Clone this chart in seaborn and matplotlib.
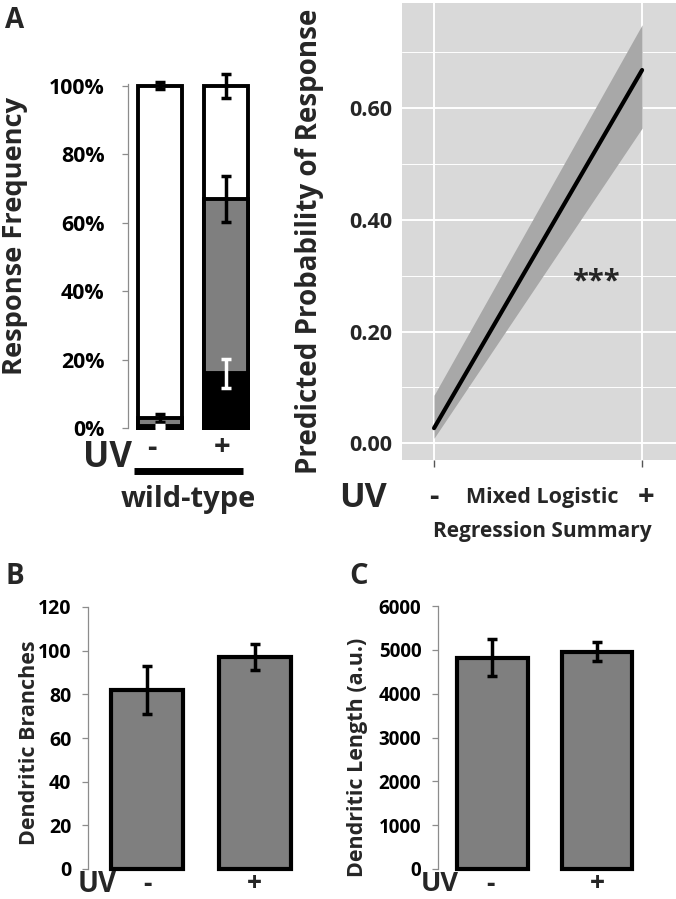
import matplotlib
matplotlib.use("Agg")
import matplotlib.pyplot as plt
from matplotlib.lines import Line2D
import seaborn as sns

sns.set_style("ticks")
plt.rcParams['font.family'] = ['Open Sans', 'DejaVu Sans']
plt.rcParams['font.weight'] = 'bold'

W, H = 676, 899

#
#  Values
#

uv = ["-", "+"]

# A (left): cumulative response frequency (%) at the top of each stacked segment
freq_total = [100, 100]
freq_gray_top = [3, 67]
freq_black_top = [0.5, 16]
err_total = [1.0, 3.5]
err_gray = [1.2, 6.7]
err_black = [0.5, 4.2]

# A (right): mixed logistic regression summary, fit and confidence band
reg_x = [0, 1]
reg_fit = [0.027, 0.668]
reg_low = [0.009, 0.564]
reg_high = [0.086, 0.749]

# B and C
branches = [82, 97]
branches_err = [11, 6]
dlength = [4820, 4960]
dlength_err = [420, 225]

GRAY = "#7f7f7f"
AXGRAY = "#8c8c8c"

fig = plt.figure(figsize=(W / 100, H / 100), dpi=100)


def px_axes(x0, y0, x1, y1):
    return fig.add_axes([x0 / W, 1 - y1 / H, (x1 - x0) / W, (y1 - y0) / H])


def ftext(x, y, s, **kw):
    kw.setdefault('ha', 'center')
    kw.setdefault('va', 'center')
    fig.text(x / W, 1 - y / H, s, **kw)


def style_bar_axes(ax, pad):
    sns.despine(ax=ax, top=True, right=True, bottom=True)
    ax.spines['left'].set_color(AXGRAY)
    ax.spines['left'].set_linewidth(0.9)
    ax.tick_params(axis='y', direction='out', length=4, width=0.9,
                   color=AXGRAY, pad=pad, labelcolor='black')
    ax.tick_params(axis='x', length=0, labelbottom=False)
    ax.set_xlabel("")
    ax.set_ylabel("")
    for p in ax.patches:
        p.set_clip_on(False)


def err(ax, vals, errs, color='black'):
    eb = ax.errorbar([0, 1], vals, yerr=errs, fmt='none', ecolor=color,
                     elinewidth=2.5, capsize=3.5, capthick=2.5, zorder=5)
    for artist in eb.lines[1] + eb.lines[2]:
        artist.set_clip_on(False)


#%%
# A, left: stacked response frequencies

ax = px_axes(128, 84, 262, 428)
for vals, col in [(freq_total, 'white'), (freq_gray_top, GRAY), (freq_black_top, 'black')]:
    sns.barplot(x=uv, y=vals, order=uv, color=col, saturation=1, width=0.68,
                edgecolor='black', linewidth=2.8, errorbar=None, ax=ax)
err(ax, freq_total, err_total)
err(ax, freq_gray_top, err_gray)
err(ax, freq_black_top, err_black, color='white')
ax.set_xlim(-0.485, 1.545)
ax.set_ylim(0, 100.5)
ax.set_yticks([0, 20, 40, 60, 80, 100])
ax.set_yticklabels([f"{v}%" for v in [0, 20, 40, 60, 80, 100]], fontsize=15.4)
style_bar_axes(ax, pad=13)

ftext(15, 236, "Response Frequency", rotation=90, fontsize=19.6)
ftext(15, 21, "A", fontsize=20)
ftext(107, 458, "UV", fontsize=25)
ftext(152, 448, "-", fontsize=21)
ftext(222, 448, "+", fontsize=21)
fig.add_artist(Line2D([134 / W, 243 / W], [1 - 470.5 / H] * 2, color='black',
                      lw=5, solid_capstyle='butt'))
ftext(188, 499, "wild-type", fontsize=21)

#%%
# A, right: regression summary

ax = px_axes(402, 3, 676, 460)
ax.set_facecolor('#d9d9d9')
ax.fill_between(reg_x, reg_low, reg_high, color='#a8a8a8', lw=0, zorder=2)
sns.lineplot(x=reg_x, y=reg_fit, color='black', lw=3, ax=ax, zorder=3)
ax.set_xlim(-0.154, 1.163)
ax.set_ylim(-0.030, 0.788)
ax.set_yticks([0, 0.2, 0.4, 0.6])
ax.set_yticks([0.1, 0.3, 0.5, 0.7], minor=True)
ax.set_yticklabels(["0.00", "0.20", "0.40", "0.60"], fontsize=15.6)
ax.set_xticks(reg_x)
ax.set_xticklabels([])
ax.grid(which='major', color='white', lw=1.4)
ax.grid(which='minor', axis='y', color='white', lw=0.7)
ax.set_axisbelow(True)
for s in ax.spines.values():
    s.set_visible(False)
ax.tick_params(axis='y', which='both', length=0, pad=7)
ax.tick_params(axis='x', length=5, width=1, color='#555555')
ax.text(0.78, 0.288, "***", fontsize=21, ha='center', va='center')

ftext(309, 241, "Predicted Probability of Response", rotation=90, fontsize=20)
ftext(363, 498, "UV", fontsize=24.5)
ftext(434, 497, "-", fontsize=21)
ftext(542, 497, "Mixed Logistic", fontsize=15.5)
ftext(646, 497, "+", fontsize=21)
ftext(542, 531, "Regression Summary", fontsize=15)

#%%
# B: dendritic branches

ax = px_axes(88, 607, 310, 869)
sns.barplot(x=uv, y=branches, order=uv, color=GRAY, saturation=1, width=0.67,
            edgecolor='black', linewidth=3, errorbar=None, ax=ax)
err(ax, branches, branches_err)
ax.set_xlim(-0.549, 1.516)
ax.set_ylim(0, 120)
ax.set_yticks(range(0, 121, 20))
ax.tick_params(axis='y', labelsize=14)
style_bar_axes(ax, pad=8)

ftext(15, 576, "B", fontsize=20)
ftext(30, 743, "Dendritic Branches", rotation=90, fontsize=15.5)
ftext(97, 884, "UV", fontsize=20)
ftext(147, 884, "-", fontsize=19)
ftext(254, 884, "+", fontsize=19)

#%%
# C: dendritic length

ax = px_axes(438, 606, 660, 869)
sns.barplot(x=uv, y=dlength, order=uv, color=GRAY, saturation=1, width=0.67,
            edgecolor='black', linewidth=3, errorbar=None, ax=ax)
err(ax, dlength, dlength_err)
ax.set_xlim(-0.52, 1.60)
ax.set_ylim(0, 6000)
ax.set_yticks(range(0, 6001, 1000))
ax.tick_params(axis='y', labelsize=13.5)
style_bar_axes(ax, pad=8)

ftext(359, 576, "C", fontsize=21)
ftext(358, 757, "Dendritic Length (a.u.)", rotation=90, fontsize=15.5)
ftext(440, 884, "UV", fontsize=19.5)
ftext(490, 884, "-", fontsize=19)
ftext(597, 884, "+", fontsize=19)

fig.savefig("out.png", dpi=100)
